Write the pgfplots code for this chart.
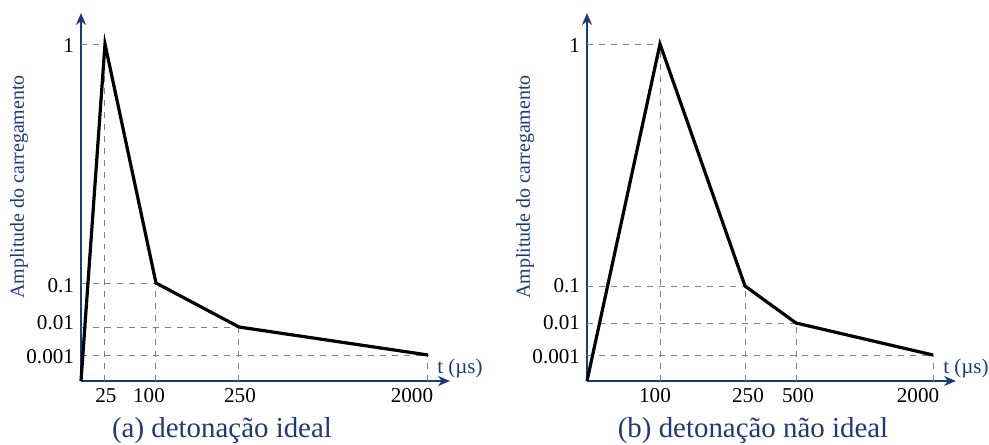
\documentclass[border=0pt]{standalone}
\usepackage{pgfplots}
\pgfplotsset{compat=1.18}
\usepackage{fontspec}
\setmainfont{Liberation Serif}
\usetikzlibrary{arrows.meta}
\definecolor{navy}{RGB}{31,56,122}
\tikzset{capt/.style={anchor=base, font=\fontsize{14.5}{16}\selectfont, text=navy}}
\begin{document}
\begin{tikzpicture}
\useasboundingbox (-40.5bp,-32bp) rectangle (454bp,190.5bp);
\pgfplotsset{
  myax/.style={
    x=0.5bp, y=0.5bp, xmin=0, xmax=369, ymin=0, ymax=368,
    axis lines=left,
    axis line style={navy, line width=1bp, -{Stealth[length=6bp,width=5bp]}},
    clip=false,
    major tick length=0pt,
    tick style={draw=none},
    ytick={24,58,95,335}, yticklabels={0.001,0.01,0.1,1},
    /pgf/number format/assume math mode=true,
    tick label style={font=\fontsize{10.6}{12}\selectfont, text=black},
    ylabel={Amplitude do carregamento},
    ylabel style={at={(axis cs:-62,194)}, anchor=center, font=\fontsize{10}{12}\selectfont, text=navy},
    xlabel={t (µs)},
    xlabel style={at={(axis cs:379,8)}, anchor=base, font=\fontsize{10.5}{12}\selectfont, text=navy},
  },
  gl/.style={gray, dashed, line width=0.5bp, forget plot},
  curve/.style={black, line width=1.6bp, line join=miter},
}
% ---------- (a) ----------
\begin{axis}[myax,
  xtick={25,68,159,331}, xticklabels={25,100,250,2000}]
\addplot[gl] coordinates {(0,337) (24,337)};
\addplot[gl] coordinates {(0,98) (75,98)};
\addplot[gl] coordinates {(0,54) (158,54)};
\addplot[gl] coordinates {(0,26) (347,26)};
\addplot[gl] coordinates {(24,0) (24,337)};
\addplot[gl] coordinates {(75,0) (75,98)};
\addplot[gl] coordinates {(158,0) (158,54)};
\addplot[gl] coordinates {(347,0) (347,26)};
\addplot[curve] coordinates {(0,0) (24,337) (75,98) (158,54) (347,26)};
\node[capt] at (axis cs:141,-56) {(a) detonação ideal};
\end{axis}
% ---------- (b) ----------
\begin{axis}[myax, at={(253bp,0)},
  xtick={68,161,211,331}, xticklabels={100,250,500,2000}]
\addplot[gl] coordinates {(0,337) (73,337)};
\addplot[gl] coordinates {(0,95) (158,95)};
\addplot[gl] coordinates {(0,58) (209,58)};
\addplot[gl] coordinates {(0,26) (346,26)};
\addplot[gl] coordinates {(73,0) (73,337)};
\addplot[gl] coordinates {(158,0) (158,95)};
\addplot[gl] coordinates {(209,0) (209,58)};
\addplot[gl] coordinates {(346,0) (346,26)};
\addplot[curve] coordinates {(0,0) (73,337) (158,95) (209,58) (346,26)};
\node[capt] at (axis cs:166,-56) {(b) detonação não ideal};
\end{axis}
\end{tikzpicture}
\end{document}
